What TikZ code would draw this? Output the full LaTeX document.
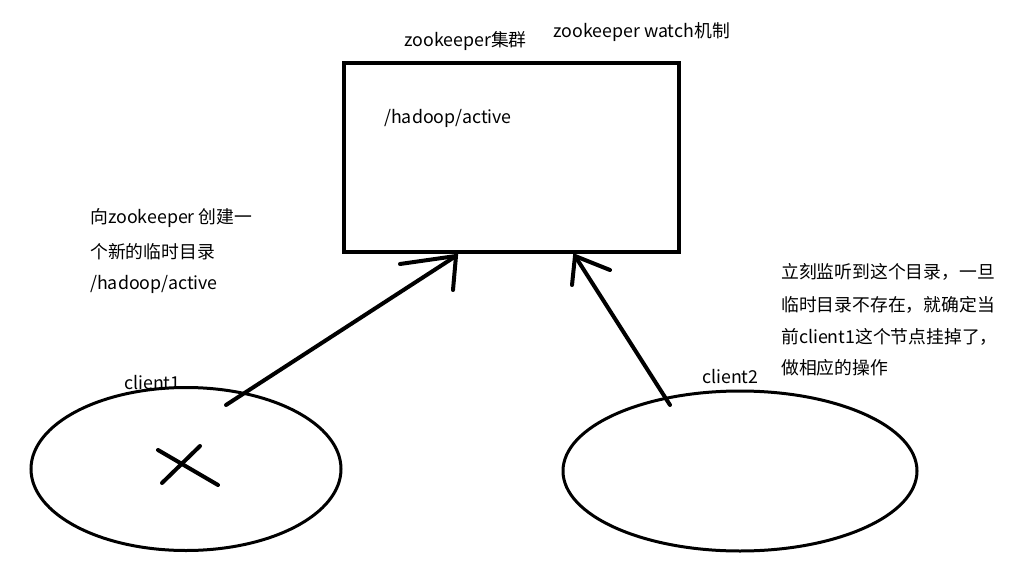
\documentclass[tikz,border=0pt]{standalone}
\usepackage{fontspec}
\usetikzlibrary{shapes.geometric}
\setmainfont{Noto Sans CJK SC}
\begin{document}
\begin{tikzpicture}[x=1pt,y=-1pt,
  txt/.style={anchor=west,inner sep=0pt,font=\fontsize{17.8}{20}\selectfont},
  thick4/.style={line width=4pt,line cap=round},
  thick3/.style={line width=3pt}]
\useasboundingbox (0,0) rectangle (1025,583);
\fill[white] (0,0) rectangle (1025,583);
\node[draw,line width=4pt,minimum width=335pt,minimum height=189pt,inner sep=0pt] (zk) at (511.5,157.5) {};
\node[txt] (zkt) at (404,41) {zookeeper集群};
\node[txt] (watch) at (553,32) {zookeeper watch机制};
\node[txt] (path) at (384,118) {/hadoop/active};
\node[draw,ellipse,line width=3pt,minimum width=310pt,minimum height=163pt,inner sep=0pt] (c1) at (186,469) {};
\node[draw,ellipse,line width=3pt,minimum width=354pt,minimum height=160pt,inner sep=0pt] (c2) at (740,471) {};
\node[txt] (c1t) at (124,383) {client1};
\node[txt] (c2t) at (702,377) {client2};
\node[txt] (lt1) at (90,218) {向zookeeper 创建一};
\node[txt] (lt2) at (90,252) {个新的临时目录};
\node[txt] (lt3) at (90,284) {/hadoop/active};
\node[txt] (rt1) at (781,272) {立刻监听到这个目录，一旦};
\node[txt] (rt2) at (781,305) {临时目录不存在，就确定当};
\node[txt] (rt3) at (781,337) {前client1这个节点挂掉了，};
\node[txt] (rt4) at (781,368) {做相应的操作};
\coordinate (a1s) at (226,405);
\coordinate (a1e) at (456,256);
\coordinate (a2s) at (670,405);
\coordinate (a2e) at (575,256);
\draw[thick4] (a1s) -- (a1e);
\draw[thick4] (400,264) -- (a1e) -- (453,290);
\draw[thick4] (a2s) -- (a2e);
\draw[thick4] (572,285) -- (a2e) -- (610,270);
\draw[thick4] (158,450) -- (218,485);
\draw[thick4] (162,483) -- (200,446);
\end{tikzpicture}
\end{document}
